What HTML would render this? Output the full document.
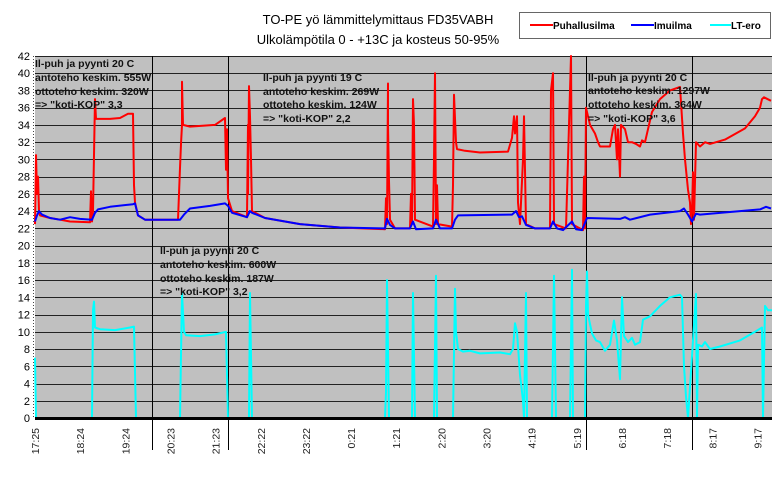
<!DOCTYPE html>
<html><head><meta charset="utf-8"><style>
body{margin:0;background:#fff;width:782px;height:479px;overflow:hidden}
svg{display:block;font-family:"Liberation Sans",Arial,sans-serif}
.ann{font-size:10.5px;font-weight:bold;fill:#111}
</style></head><body>
<svg id="s" width="782" height="479" viewBox="0 0 782 479">
<text x="378" y="24" text-anchor="middle" font-size="13">TO-PE yö lämmittelymittaus FD35VABH</text>
<text x="378" y="44" text-anchor="middle" font-size="13">Ulkolämpötila 0 - +13C ja kosteus 50-95%</text>
<rect x="519.5" y="12.5" width="251" height="26" fill="#fff" stroke="#666"/>
<line x1="530" y1="25" x2="553" y2="25" stroke="#f00" stroke-width="2"/>
<text x="553" y="29" font-size="10" font-weight="bold">Puhallusilma</text>
<line x1="631" y1="25" x2="654" y2="25" stroke="#00f" stroke-width="2"/>
<text x="654" y="29" font-size="10" font-weight="bold">Imuilma</text>
<line x1="710" y1="25" x2="731" y2="25" stroke="#0ff" stroke-width="2"/>
<text x="731" y="29" font-size="10" font-weight="bold">LT-ero</text>
<rect x="35" y="56" width="737" height="362" fill="#c0c0c0"/>
<g id="grid"></g>
<g id="series"></g>
<line x1="35" y1="418.5" x2="772" y2="418.5" stroke="#000" stroke-width="3"/>
<text class="ann" x="35" y="67">Il-puh ja pyynti 20 C</text>
<text class="ann" x="35" y="81">antoteho keskim. 555W</text>
<text class="ann" x="35" y="95">ottoteho keskim. 320W</text>
<text class="ann" x="35" y="108">=&gt; "koti-KOP" 3,3</text>
<text class="ann" x="263" y="81">Il-puh ja pyynti 19 C</text>
<text class="ann" x="263" y="95">antoteho keskim. 269W</text>
<text class="ann" x="263" y="108">ottoteho keskim. 124W</text>
<text class="ann" x="263" y="122">=&gt; "koti-KOP" 2,2</text>
<text class="ann" x="588" y="81">Il-puh ja pyynti 20 C</text>
<text class="ann" x="588" y="94">antoteho keskim. 1297W</text>
<text class="ann" x="588" y="108">ottoteho keskim. 364W</text>
<text class="ann" x="588" y="122">=&gt; "koti-KOP" 3,6</text>
<text class="ann" x="160" y="254">Il-puh ja pyynti 20 C</text>
<text class="ann" x="160" y="268">antoteho keskim. 600W</text>
<text class="ann" x="160" y="282">ottoteho keskim. 187W</text>
<text class="ann" x="160" y="295">=&gt; "koti-KOP" 3,2</text>
<g id="xl" font-size="10.5"></g>
<g id="yl" font-size="11"></g>
</svg>
<script>
var NS="http://www.w3.org/2000/svg";
function Y(v){return 418-v*8.62;}
function el(t,a,p,txt){var e=document.createElementNS(NS,t);for(var k in a)e.setAttribute(k,a[k]);if(txt!=null)e.textContent=txt;p.appendChild(e);return e;}
var g=document.getElementById('grid'),yl=document.getElementById('yl'),xl=document.getElementById('xl');
for(var v=2;v<=42;v+=2){var y=Math.round(Y(v))+0.5;el('line',{x1:35,x2:772,y1:y,y2:y,stroke:'#222','stroke-width':1},g);}
for(var v=0;v<=42;v+=2){el('text',{x:30,y:Y(v)+4,'text-anchor':'end'},yl,String(v));}
el('line',{x1:33.5,x2:33.5,y1:56,y2:418,stroke:'#444','stroke-dasharray':'1,2'},g);
[152,228,586,692].forEach(function(x){el('line',{x1:x+0.5,x2:x+0.5,y1:56,y2:450,stroke:'#000'},g);});
var labs=["17:25","18:24","19:24","20:23","21:23","22:22","23:22","0:21","1:21","2:20","3:20","4:19","5:19","6:18","7:18","8:17","9:17"];
labs.forEach(function(l,i){var x=35+i*45.15+4;el('text',{x:0,y:0,'text-anchor':'end',transform:'translate('+x+',428) rotate(-90)',fill:'#222'},xl,l);});
var s=document.getElementById('series');
function P(d,c){var pts=[];for(var i=0;i<d.length;i+=2)pts.push(d[i]+','+Y(d[i+1]).toFixed(1));el('polyline',{points:pts.join(' '),fill:'none',stroke:c,'stroke-width':2,'stroke-linejoin':'round'},s);}
var red=[35,22.5,36,30.5,37,26,38,28,39,24,40,23.5,50,23.2,60,23,70,22.8,90,22.7,91,26.3,92,22.8,93,24,95,37,96,34.7,110,34.7,120,34.8,128,35.3,133,35.3,134,27,135,25,138,23.5,145,23,178,23,180,29,181,31.8,182,34,182,39,183,34,190,33.8,215,34,225,34.8,226,28.8,227,33.5,228,25.5,232,24,247,23.3,248,34,248,26,249,38.5,250,35,251,30,252,24,265,23.2,300,22.5,340,22.1,385,21.9,386,25.5,387,22.5,388,38.8,388,34,389,27.5,390,23,395,22,410,22,411,26,412,22.5,413,37,414,34,415,23,433,22.2,434,30,435,40,436,22.5,437,27,438,22.5,452,22.2,453,27,454,37.5,456,32,457,31.2,465,31,480,30.8,508,30.9,512,32.5,514,35,515,33,517,35,518,25,520,22.5,523,30,524,35,526,22.5,535,22,550,22,551,38,553,40,554,22.5,566,22,568,30,571,42,572,22.5,583,21.8,584,28,585,22,586,36,588,35,590,34,595,33,598,32,600,31.5,606,31.5,610,31.5,613,33.5,615,34,617,30,618,33.5,620,28,621,34,625,33.5,628,32,632,32,636,31.8,640,31.5,642,32.2,645,32,648,33.5,652,35.5,660,37,670,38,680,38.4,683,33,685,30,688,26.5,690,25,691,22.5,692,24,693,28.5,694,23,696,32,700,31.5,705,32,710,31.8,716,32,725,32.3,745,33.6,755,35,760,36,762,37,764,37.2,771,36.8];
var blue=[35,22.8,37,23.5,39,24,42,23.6,50,23.2,60,23,70,23.3,80,23.1,92,23,95,23.8,98,24.2,110,24.5,133,24.8,135,24.9,138,23.5,145,23,180,23,184,23.6,190,24.3,210,24.6,225,24.9,228,24.6,232,23.8,247,23.3,250,24,252,23.8,265,23.2,300,22.5,340,22.1,385,22,387,23.1,390,22.4,395,22,410,22,413,22.8,416,21.9,433,22,436,23,440,22,452,22,455,23,458,23.5,512,23.6,516,24,519,23.3,522,23.4,526,22.4,535,22,550,22,553,22.8,557,22,563,21.8,572,22.8,576,21.9,582,21.8,587,23.2,620,23.1,625,23.3,630,23,650,23.6,680,24,684,24.3,688,23.6,692,22.8,696,23.7,700,23.6,760,24.2,766,24.5,771,24.3];
var cyan=[35,7,36,0,92,0,93,12.5,94,13.5,95,10.5,100,10.3,115,10.2,130,10.5,134,10.6,136,0,180,0,182,14.5,184,10,186,9.6,200,9.5,215,9.7,226,10,228,0,249,0,250,14.5,252,0,385,0,386,3,387,16,389,0,412,0,413,14.5,415,0,434,0,436,16.5,437,0,453,0,455,15,456,10,458,8,463,7.7,470,7.8,480,7.5,500,7.6,510,7.4,513,8,515,11,517,10,520,5,523,2,524,0,526,14.5,527,0,552,0,554,16.5,556,0,570,0,572,17.2,573,0,585,0,586,13,587,17,588,12,592,9.8,596,9,600,8.8,605,7.8,610,8.5,614,11.3,617,9,620,4.5,622,14,624,9.5,628,8.8,632,9.3,635,8.5,640,8.8,643,11.4,650,11.8,660,13,670,14,680,14.3,682,14,684,6,686,2.5,688,0,696,14.4,697,0,698,8.5,702,8.3,705,8.8,710,8,720,8.3,740,9,755,10,762,10.5,763,0,765,13,768,12.5,772,12.5];
P(red,'#ff0000');P(blue,'#0000ff');P(cyan,'#00ffff');
</script>
</body></html>
